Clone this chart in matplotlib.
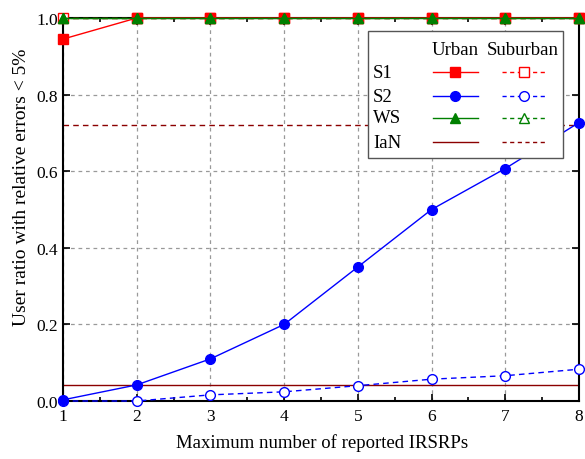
import matplotlib
matplotlib.use("Agg")
import matplotlib.pyplot as plt
from matplotlib.lines import Line2D
from matplotlib.patches import Rectangle
from matplotlib.ticker import MultipleLocator

plt.rcParams['font.family'] = ['Liberation Serif', 'DejaVu Serif']
plt.rcParams['mathtext.fontset'] = 'stix'

# Данные
x = [1, 2, 3, 4, 5, 6, 7, 8]
s1_urban = [0.945, 1.0, 1.0, 1.0, 1.0, 1.0, 1.0, 1.0]
s1_suburban = [1.0, 1.0, 1.0, 1.0, 1.0, 1.0, 1.0, 1.0]
s2_urban = [0.003, 0.042, 0.11, 0.2, 0.35, 0.5, 0.607, 0.727]
s2_suburban = [0.0, 0.0, 0.016, 0.024, 0.04, 0.057, 0.066, 0.083]
ws_urban = [1.0, 1.0, 1.0, 1.0, 1.0, 1.0, 1.0, 1.0]
ws_suburban = [1.0, 1.0, 1.0, 1.0, 1.0, 1.0, 1.0, 1.0]
ian_urban = 0.043
ian_suburban = 0.72

RED = '#ff0000'
BLUE = '#0000ff'
GREEN = '#008000'
DRED = '#8b0000'
DASH = (0, (4, 3))

fig = plt.figure(figsize=(5.85, 4.6), dpi=100)
ax = fig.add_axes([63 / 585, 58 / 460, 516 / 585, 383 / 460])

ax.axhline(ian_urban, color=DRED, lw=1.0, zorder=2)
ax.axhline(ian_suburban, color=DRED, lw=1.0, ls=DASH, zorder=2)

ms = 7
ax.plot(x, s2_suburban, color=BLUE, ls=DASH, lw=1.0, marker='o', ms=ms,
        mfc='white', mec=BLUE, clip_on=False, zorder=3)
ax.plot(x, s2_urban, color=BLUE, lw=1.0, marker='o', ms=ms, clip_on=False, zorder=4)
ax.plot(x, s1_suburban, color=RED, ls=DASH, lw=1.0, marker='s', ms=ms,
        mfc='white', mec=RED, clip_on=False, zorder=4)
ax.plot(x, s1_urban, color=RED, lw=1.0, marker='s', ms=ms, clip_on=False, zorder=5)
ax.plot(x, ws_suburban, color=GREEN, ls=DASH, lw=1.0, marker='^', ms=ms,
        mfc='white', mec=GREEN, clip_on=False, zorder=5)
ax.plot(x, ws_urban, color=GREEN, lw=1.0, marker='^', ms=ms, clip_on=False, zorder=6)

ax.set_xlim(1, 8)
ax.set_ylim(0, 1.0)
ax.xaxis.set_major_locator(MultipleLocator(1))
ax.xaxis.set_minor_locator(MultipleLocator(0.5))
ax.yaxis.set_major_locator(MultipleLocator(0.2))
ax.yaxis.set_major_formatter(matplotlib.ticker.FormatStrFormatter('%.1f'))
ax.tick_params(which='both', direction='in', top=True, right=True,
               labelsize=12.5, width=1.2)
ax.tick_params(which='major', length=5)
ax.tick_params(which='minor', length=3)
ax.tick_params(axis='x', pad=5)
for sp in ax.spines.values():
    sp.set_linewidth(1.5)
ax.grid(True, which='major', color='#999999', ls=(0, (3, 3)), lw=0.9)
ax.set_axisbelow(True)

ax.set_xlabel('Maximum number of reported IRSRPs', fontsize=13.5)
ax.set_ylabel('User ratio with relative errors < 5%', fontsize=14)
ax.xaxis.set_label_coords(0.502, -0.085)
ax.yaxis.set_label_coords(-0.064, 0.561)

# Легенда в виде таблицы: строки - схемы, столбцы - сценарии
T = ax.transAxes
ax.add_patch(Rectangle((0.591, 0.634), 0.378, 0.332, transform=T,
                       facecolor='white', edgecolor='#555555', lw=1.0, zorder=10))
ax.text(0.7605, 0.919, 'Urban', transform=T, ha='center', va='center',
        fontsize=13.5, zorder=11)
ax.text(0.891, 0.919, 'Suburban', transform=T, ha='center', va='center',
        fontsize=13.5, zorder=11)
rows = [
    ('S1', RED, 's'),
    ('S2', BLUE, 'o'),
    ('WS', GREEN, '^'),
    ('IaN', DRED, None),
]
row_y = [0.859, 0.796, 0.739, 0.676]
for (name, c, m), yy in zip(rows, row_y):
    ax.text(0.601, yy, name, transform=T, ha='left', va='center',
            fontsize=13.5, zorder=11)
    ax.add_line(Line2D([0.717, 0.804], [yy, yy], transform=T, color=c, lw=1.0,
                       zorder=11))
    ax.add_line(Line2D([0.851, 0.934], [yy, yy], transform=T, color=c, lw=1.0,
                       ls=(0, (3, 2.5)), zorder=11))
    if m is not None:
        ax.add_line(Line2D([0.7605], [yy], transform=T, color=c, marker=m,
                           ms=ms, ls='none', zorder=12))
        ax.add_line(Line2D([0.8925], [yy], transform=T, color=c, marker=m,
                           ms=ms, ls='none', mfc='white', mec=c, zorder=12))

fig.savefig('out.png', dpi=100)
